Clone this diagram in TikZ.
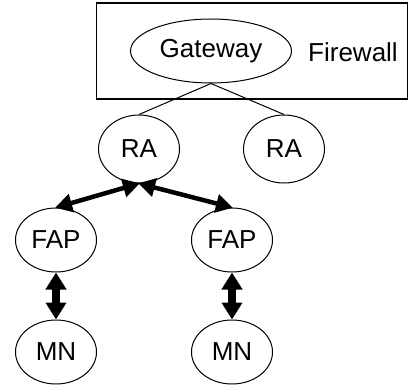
\documentclass[tikz,border=0pt]{standalone}
\usepackage{fontspec}
\setmainfont{Liberation Sans}
\usetikzlibrary{shapes.geometric,arrows.meta}
\begin{document}
\begin{tikzpicture}[x=1pt,y=-1pt,
  ell/.style={draw,ellipse,line width=1pt,inner sep=0pt,minimum width=81pt,minimum height=66pt,font=\fontsize{26}{30}\selectfont},
  small/.style={ell,minimum height=64pt},
  link/.style={line width=1pt},
  dbl/.style={line width=4.5pt,{Triangle[length=17pt,width=18pt]}-{Triangle[length=17pt,width=18pt]},shorten <=-1pt,shorten >=-1pt},
  vdbl/.style={line width=8pt,{Triangle[length=17pt,width=20pt]}-{Triangle[length=17pt,width=20pt]}}
]
\useasboundingbox (0,0) rectangle (409,385);
\node[draw,line width=1.5pt,minimum width=311pt,minimum height=96pt,inner sep=0pt] (box) at (252,51) {};
\node[ell,minimum width=161pt,minimum height=64pt] (gw) at (211,51) {Gateway};
\node[font=\fontsize{26}{30}\selectfont] (fw) at (353,52) {Firewall};
\node[ell,minimum height=68pt] (ra1) at (139,149) {RA};
\node[ell,minimum height=68pt] (ra2) at (284,149) {RA};
\node[small] (fap1) at (56,240) {FAP};
\node[small] (fap2) at (232,240) {FAP};
\node[small] (mn1) at (56,352) {MN};
\node[small] (mn2) at (232,352) {MN};
\draw[link] (gw.south) -- (ra1.north);
\draw[link] (gw.south) -- (ra2.north);
\draw[dbl] (ra1.south) -- (fap1.north);
\draw[dbl] (ra1.south) -- (fap2.north);
\draw[vdbl] (fap1.south) -- (mn1.north);
\draw[vdbl] (fap2.south) -- (mn2.north);
\end{tikzpicture}
\end{document}
